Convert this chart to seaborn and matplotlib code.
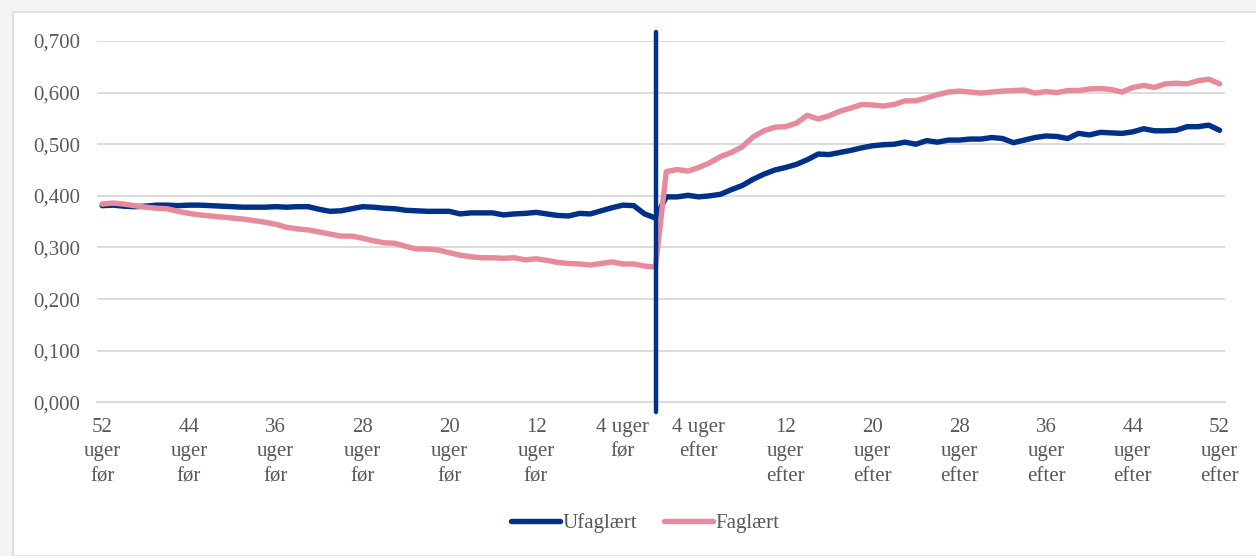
import matplotlib
matplotlib.use("Agg")
import matplotlib.pyplot as plt
import numpy as np
import pandas as pd
import seaborn as sns
from matplotlib.patches import Rectangle

# weekly values, 52 weeks before and 52 weeks after
ufaglaert_foer = [
    0.381, 0.382, 0.380, 0.379, 0.380, 0.382, 0.382, 0.381, 0.382, 0.382,
    0.381, 0.380, 0.379, 0.378, 0.378, 0.378, 0.379, 0.378, 0.379, 0.379,
    0.374, 0.370, 0.371, 0.375, 0.379, 0.378, 0.376, 0.375, 0.372, 0.371,
    0.370, 0.370, 0.370, 0.365, 0.367, 0.367, 0.367, 0.363, 0.365, 0.366,
    0.368, 0.365, 0.362, 0.361, 0.366, 0.365, 0.371, 0.377, 0.382, 0.381,
    0.365, 0.357,
]
ufaglaert_efter = [
    0.398, 0.398, 0.401, 0.398, 0.400, 0.403, 0.412, 0.420, 0.432, 0.442,
    0.450, 0.455, 0.461, 0.470, 0.481, 0.480, 0.484, 0.488, 0.493, 0.497,
    0.499, 0.500, 0.504, 0.500, 0.507, 0.504, 0.508, 0.508, 0.510, 0.510,
    0.513, 0.511, 0.503, 0.508, 0.513, 0.516, 0.515, 0.511, 0.521, 0.518,
    0.523, 0.522, 0.521, 0.524, 0.530, 0.526, 0.526, 0.527, 0.534, 0.534,
    0.537, 0.527,
]
faglaert_foer = [
    0.384, 0.386, 0.384, 0.381, 0.378, 0.376, 0.375, 0.370, 0.366, 0.363,
    0.361, 0.359, 0.357, 0.355, 0.352, 0.349, 0.345, 0.339, 0.336, 0.334,
    0.330, 0.326, 0.322, 0.322, 0.318, 0.313, 0.309, 0.308, 0.302, 0.297,
    0.297, 0.295, 0.290, 0.285, 0.282, 0.280, 0.280, 0.279, 0.280, 0.276,
    0.278, 0.275, 0.271, 0.269, 0.268, 0.266, 0.269, 0.272, 0.268, 0.268,
    0.264, 0.262,
]
faglaert_efter = [
    0.447, 0.451, 0.448, 0.455, 0.464, 0.476, 0.484, 0.495, 0.514, 0.526,
    0.533, 0.534, 0.541, 0.556, 0.549, 0.555, 0.564, 0.570, 0.577, 0.576,
    0.574, 0.577, 0.584, 0.584, 0.590, 0.596, 0.601, 0.603, 0.601, 0.599,
    0.601, 0.603, 0.604, 0.605, 0.599, 0.602, 0.600, 0.604, 0.604, 0.607,
    0.608, 0.606, 0.601, 0.610, 0.614, 0.610, 0.617, 0.618, 0.617, 0.623,
    0.626, 0.617,
]

weeks = [f"{n} uger før" for n in range(52, 0, -1)] + [
    f"{n} uger efter" for n in range(1, 53)
]
tick_pos = [0, 8, 16, 24, 32, 40, 48, 55, 63, 71, 79, 87, 95, 103]
tick_labels = [
    "52\nuger\nfør", "44\nuger\nfør", "36\nuger\nfør", "28\nuger\nfør",
    "20\nuger\nfør", "12\nuger\nfør", "4 uger\nfør",
    "4 uger\nefter", "12\nuger\nefter", "20\nuger\nefter", "28\nuger\nefter",
    "36\nuger\nefter", "44\nuger\nefter", "52\nuger\nefter",
]
cut_week = 51  # "1 uger før"

BLUE = "#003189"
PINK = "#e78a9b"
GREY_TXT = "#595959"

df = pd.DataFrame(
    {
        "uge": list(range(len(weeks))) * 2,
        "andel": ufaglaert_foer + ufaglaert_efter + faglaert_foer + faglaert_efter,
        "gruppe": ["Ufaglært"] * len(weeks) + ["Faglært"] * len(weeks),
    }
)

sns.set_style("white")
plt.rcParams["font.family"] = ["Liberation Serif", "DejaVu Serif"]

fig = plt.figure(figsize=(12.56, 5.56), dpi=100)
fig.patch.set_facecolor("#f3f5f5")
fig.patches.append(
    Rectangle((13 / 1256, 0), 1.0, 1 - 12 / 556, transform=fig.transFigure,
              facecolor="white", edgecolor="#dcdcdc", linewidth=1.2, zorder=-10)
)
ax = fig.add_axes([96.7 / 1256, 153.7 / 556, (1225 - 96.7) / 1256, 361.3 / 556])

sns.lineplot(
    data=df, x="uge", y="andel", hue="gruppe",
    palette={"Ufaglært": BLUE, "Faglært": PINK},
    linewidth=3.9, ax=ax, zorder=3,
)
ax.plot([cut_week + 0.05, cut_week + 0.05], [-0.019, 0.718], color=BLUE,
        linewidth=3.2, clip_on=False, zorder=4)

ax.set_xlim(-0.5, len(weeks) - 0.5)
ax.set_ylim(0, 0.7)
ax.set_yticks(np.arange(0, 0.71, 0.1))
ax.set_yticklabels([f"{v:.3f}".replace(".", ",") for v in np.arange(0, 0.71, 0.1)])
ax.set_xticks(tick_pos)
ax.set_xticklabels(tick_labels, linespacing=1.42)
ax.tick_params(axis="both", length=0, labelsize=15, colors=GREY_TXT)
ax.tick_params(axis="x", pad=11)
ax.tick_params(axis="y", pad=12)
ax.grid(axis="y", color="#d9d9d9", linewidth=1.3)
ax.set_axisbelow(True)
for s in ["top", "right", "left"]:
    ax.spines[s].set_visible(False)
ax.spines["bottom"].set_color("#d9d9d9")
ax.spines["bottom"].set_linewidth(1.3)
ax.set_xlabel("")
ax.set_ylabel("")
ax.patch.set_alpha(0)

handles, labels = ax.get_legend_handles_labels()
ax.legend(
    handles, labels, loc="center", bbox_to_anchor=(645 / 1256, 33 / 556),
    bbox_transform=fig.transFigure, ncol=2, frameon=False, fontsize=15,
    handlelength=2.35, handletextpad=0.1, columnspacing=1.3, labelcolor=GREY_TXT,
)

fig.savefig("out.png", dpi=100, facecolor=fig.get_facecolor())
